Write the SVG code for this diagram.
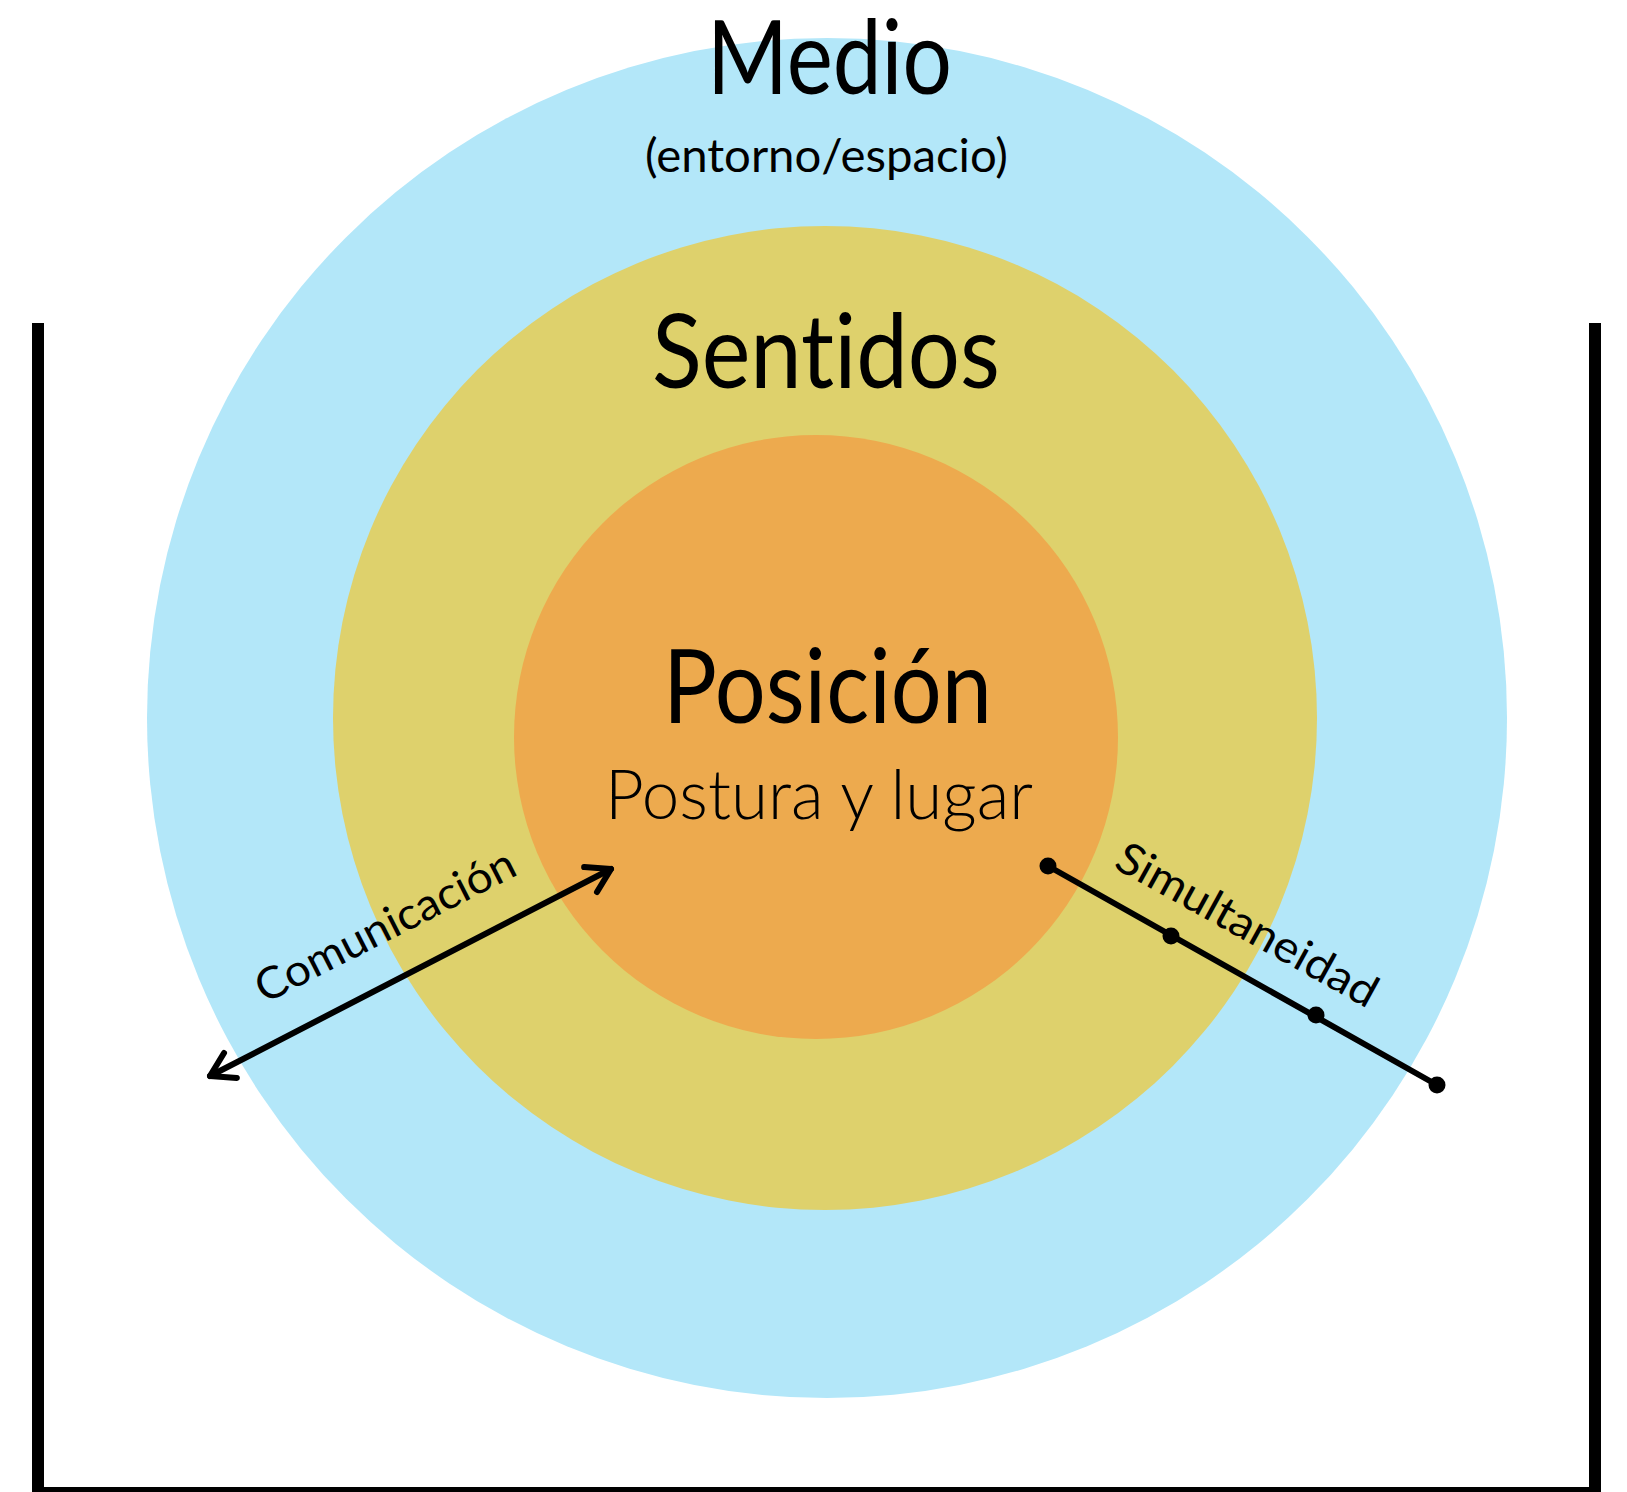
<svg xmlns="http://www.w3.org/2000/svg" width="1627" height="1492" viewBox="0 0 1627 1492">
<style>
.t{font-family:Lato,"Open Sans","Liberation Sans",sans-serif;fill:#000;text-anchor:middle;font-variant-ligatures:none;font-feature-settings:"liga" 0,"clig" 0}
.big{font-size:102px;font-weight:400}
.ln{fill:none;stroke:#000;stroke-width:6;stroke-linecap:round;stroke-linejoin:round}
</style>
<defs>
<marker id="arr" markerUnits="userSpaceOnUse" markerWidth="60" markerHeight="60" refX="0" refY="0" viewBox="-30 -30 60 60" orient="auto-start-reverse">
<path d="M-23 -14 L0 0 L-23 14" fill="none" stroke="#000" stroke-width="6" stroke-linecap="round" stroke-linejoin="round"/>
</marker>
</defs>
<rect width="1627" height="1492" fill="#fff"/>
<g id="medio">
<circle cx="827" cy="718" r="680" fill="#B3E7F9"/>
<text class="t big" x="829.5" y="94" textLength="245" lengthAdjust="spacingAndGlyphs">Medio</text>
<text class="t" x="826.5" y="172" font-size="47" textLength="363" lengthAdjust="spacingAndGlyphs">(entorno/espacio)</text>
</g>
<g id="sentidos">
<circle cx="825" cy="718" r="492" fill="#DED16C"/>
<text class="t big" x="826" y="388" textLength="348" lengthAdjust="spacingAndGlyphs">Sentidos</text>
</g>
<g id="posicion">
<circle cx="816" cy="737" r="302" fill="#EDAA4E"/>
<text class="t big" x="827.5" y="723" textLength="329" lengthAdjust="spacingAndGlyphs">Posición</text>
<text class="t" x="819" y="819" font-size="68" font-weight="300" textLength="428" lengthAdjust="spacingAndGlyphs">Postura y lugar</text>
</g>
<g id="bracket">
<path d="M38 323 V1493 H1595 V323" fill="none" stroke="#000" stroke-width="12"/>
</g>
<g id="connectors">
<g id="comunicacion">
<line class="ln" x1="210" y1="1076" x2="611" y2="869" marker-start="url(#arr)" marker-end="url(#arr)"/>
<text class="t" font-size="44" transform="translate(392 939) rotate(-27)" textLength="286" lengthAdjust="spacingAndGlyphs">Comunicación</text>
</g>
<g id="simultaneidad">
<line class="ln" x1="1048" y1="866" x2="1437" y2="1085"/>
<circle cx="1048" cy="866" r="8.5"/>
<circle cx="1171" cy="936" r="8.5"/>
<circle cx="1316" cy="1015" r="8.5"/>
<circle cx="1437" cy="1085" r="8.5"/>
<text class="t" font-size="44" transform="translate(1240 938) rotate(29)" textLength="292" lengthAdjust="spacingAndGlyphs">Simultaneidad</text>
</g>
</g>
</svg>
